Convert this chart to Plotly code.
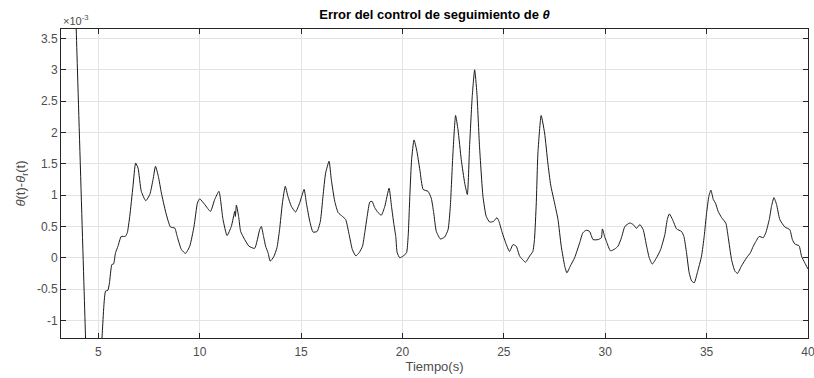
import plotly.graph_objects as go

# time (s)
t = [3.5, 3.91, 4.37, 4.5, 4.8, 5.18, 5.36, 5.47, 5.55, 5.67, 5.75, 5.85, 5.97, 6.13, 6.33, 6.43,
     6.55, 6.71, 6.84, 6.96, 7.12, 7.34, 7.54, 7.70, 7.82, 7.96, 8.11, 8.33, 8.56, 8.77, 8.89,
     9.10, 9.30, 9.51, 9.72, 9.89, 10.0, 10.25, 10.53, 10.74, 10.95, 11.15, 11.35, 11.56, 11.73,
     11.76, 11.81, 11.92, 12.02, 12.22, 12.43, 12.71, 12.96, 13.04, 13.15, 13.25, 13.37, 13.48,
     13.65, 13.81, 13.94, 14.08, 14.22, 14.35, 14.52, 14.73, 14.93, 15.15, 15.26, 15.43, 15.59,
     15.79, 15.95, 16.08, 16.21, 16.38, 16.49, 16.66, 16.83, 17.04, 17.20, 17.37, 17.53, 17.70,
     17.86, 18.03, 18.14, 18.26, 18.39, 18.50, 18.63, 18.80, 18.96, 19.13, 19.34, 19.46, 19.57,
     19.67, 19.74, 19.87, 20.03, 20.20, 20.28, 20.37, 20.45, 20.57, 20.70, 20.86, 21.02, 21.26,
     21.42, 21.54, 21.67, 21.87, 22.08, 22.25, 22.36, 22.49, 22.62, 22.74, 22.90, 23.07, 23.20,
     23.31, 23.44, 23.56, 23.67, 23.80, 23.97, 24.13, 24.30, 24.49, 24.66, 24.76, 24.92, 25.09,
     25.28, 25.45, 25.61, 25.78, 26.07, 26.27, 26.43, 26.51, 26.60, 26.68, 26.84, 27.01, 27.17,
     27.31, 27.50, 27.67, 27.83, 28.00, 28.11, 28.28, 28.49, 28.74, 28.90, 29.07, 29.23, 29.40,
     29.64, 29.81, 29.86, 29.97, 30.06, 30.26, 30.47, 30.63, 30.80, 30.97, 31.21, 31.38, 31.54,
     31.71, 31.87, 32.04, 32.17, 32.32, 32.53, 32.73, 32.94, 33.06, 33.16, 33.32, 33.52, 33.76,
     33.88, 34.01, 34.14, 34.26, 34.39, 34.54, 34.75, 34.88, 35.00, 35.11, 35.21, 35.33, 35.44,
     35.57, 35.74, 35.95, 36.06, 36.23, 36.39, 36.52, 36.72, 36.97, 37.16, 37.30, 37.43, 37.59,
     37.79, 37.92, 38.09, 38.20, 38.32, 38.45, 38.61, 38.86, 39.10, 39.23, 39.35, 39.56, 39.68,
     39.84, 40.0]

# error (x 1e-3)
err = [8.0, 3.65, -1.28, -2.7, -3.0, -1.28, -0.53, -0.52, -0.40, -0.107, -0.10, 0.08, 0.185, 0.34, 0.34, 0.40,
       0.66, 1.14, 1.51, 1.43, 1.06, 0.91, 1.01, 1.25, 1.46, 1.30, 1.035, 0.72, 0.49, 0.475, 0.34,
       0.13, 0.07, 0.185, 0.50, 0.875, 0.94, 0.85, 0.74, 0.93, 1.06, 0.61, 0.355, 0.50, 0.74,
       0.66, 0.84, 0.66, 0.42, 0.29, 0.185, 0.15, 0.45, 0.50, 0.34, 0.185, 0.08, -0.054,
       0.015, 0.16, 0.45, 0.875, 1.14, 0.98, 0.82, 0.73, 0.875, 1.09, 0.875, 0.58, 0.41,
       0.42, 0.58, 0.98, 1.35, 1.54, 1.25, 0.90, 0.72, 0.66, 0.61, 0.37, 0.13, 0.03,
       0.08, 0.185, 0.40, 0.66, 0.89, 0.90, 0.80, 0.72, 0.68, 0.82, 1.11, 0.82, 0.55,
       0.34, 0.08, 0.0, 0.027, 0.08, 0.34, 1.035, 1.565, 1.88, 1.72, 1.40, 1.09, 1.06,
       0.95, 0.72, 0.42, 0.30, 0.33, 0.45, 0.82, 1.67, 2.27, 2.04, 1.565, 1.19, 1.01,
       1.78, 2.57, 3.0, 2.63, 1.78, 0.98, 0.66, 0.57, 0.58, 0.64, 0.58, 0.40, 0.24,
       0.10, 0.21, 0.185, 0.027, -0.07, 0.027, 0.10, 0.29, 0.875, 1.67, 2.27, 1.99, 1.51,
       1.16, 0.875, 0.61, 0.185, -0.13, -0.24, -0.13, 0.0, 0.24, 0.40, 0.44, 0.42, 0.29,
       0.29, 0.32, 0.46, 0.34, 0.26, 0.11, 0.14, 0.185, 0.32, 0.50, 0.555, 0.53, 0.47,
       0.53, 0.45, 0.185, 0.0, -0.10, 0.0, 0.13, 0.37, 0.61, 0.70, 0.61, 0.46, 0.42,
       0.34, 0.08, -0.24, -0.37, -0.40, -0.24, 0.027, 0.34, 0.72, 0.98, 1.08, 0.93, 0.87,
       0.74, 0.64, 0.55, 0.34, -0.03, -0.21, -0.25, -0.13, 0.0, 0.08, 0.185, 0.26, 0.34,
       0.32, 0.40, 0.61, 0.82, 0.96, 0.85, 0.61, 0.49, 0.45, 0.29, 0.22, 0.19, 0.027,
       -0.08, -0.18]

x_ticks = [5, 10, 15, 20, 25, 30, 35, 40]
y_ticks = [-1, -0.5, 0, 0.5, 1, 1.5, 2, 2.5, 3, 3.5]
y_tick_text = ["-1", "-0.5", "0", "0.5", "1", "1.5", "2", "2.5", "3", "3.5"]

font_family = "Liberation Sans, Arial, Helvetica, sans-serif"
axis_color = "#262626"
tick_font_color = "#4d4d4d"

fig = go.Figure()
fig.add_trace(go.Scatter(x=t, y=err, mode="lines",
                         line=dict(color="#1a1a1a", width=1, shape="spline", smoothing=0.5),
                         showlegend=False))

fig.update_layout(
    width=814, height=378,
    margin=dict(l=61, r=6, t=29, b=40, autoexpand=False),
    paper_bgcolor="white", plot_bgcolor="white",
    font=dict(family=font_family, size=12, color=tick_font_color),
    title=dict(text="<b>Error del control de seguimiento de <i>θ</i></b>",
               x=(61 + 808) / 2 / 814, xanchor="center", y=1 - 14 / 378, yanchor="middle",
               font=dict(size=13, color="black", family=font_family)),
)

fig.update_xaxes(
    range=[3.16, 40], tickvals=x_ticks, ticks="inside", ticklen=5, tickcolor=axis_color,
    showline=True, linecolor=axis_color, linewidth=1, mirror="ticks",
    showgrid=True, gridcolor="#e3e3e3", gridwidth=1, zeroline=False, automargin=False,
    tickfont=dict(size=12, color=tick_font_color), ticklabeloverflow="allow",
    ticklabelstandoff=3,
    title=dict(text="Tiempo(s)", font=dict(size=13, color=tick_font_color), standoff=3),
)
fig.update_yaxes(
    range=[-1.28, 3.65], tickvals=y_ticks, ticktext=y_tick_text,
    ticks="inside", ticklen=5, tickcolor=axis_color,
    showline=True, linecolor=axis_color, linewidth=1, mirror="ticks",
    showgrid=True, gridcolor="#e3e3e3", gridwidth=1, zeroline=False, automargin=False,
    tickfont=dict(size=12, color=tick_font_color),
    title=dict(text="<i>θ</i>(t)-<i>θ</i><sub>r</sub>(t)", font=dict(size=13, color=tick_font_color),
               standoff=8),
)

fig.add_annotation(text="×10<sup>-3</sup>", xref="paper", yref="paper", x=0, y=1,
                   xanchor="left", yanchor="bottom", showarrow=False, yshift=0,
                   font=dict(size=11, color=tick_font_color, family=font_family))

fig.write_html("out.html")
